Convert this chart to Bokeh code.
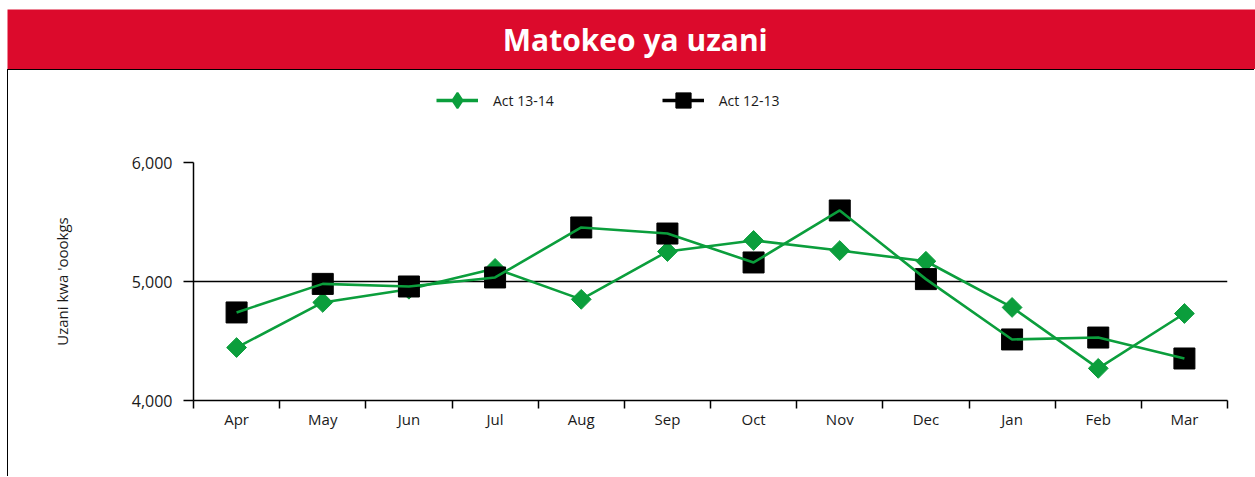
from bokeh.plotting import figure
from bokeh.layouts import column
from bokeh.models import (FixedTicker, NumeralTickFormatter, Legend, LegendItem,
                          Range1d, Label, ColumnDataSource)
from bokeh.embed import file_html
from bokeh.resources import INLINE
import math

# ---- data ----
months = ["Apr", "May", "Jun", "Jul", "Aug", "Sep", "Oct", "Nov", "Dec", "Jan", "Feb", "Mar"]
act_13_14 = [4445, 4824, 4935, 5110, 4850, 5252, 5345, 5260, 5170, 4782, 4270, 4731]
act_12_13 = [4740, 4980, 4958, 5034, 5454, 5403, 5160, 5597, 5020, 4513, 4529, 4353]
y_ticks = [4000, 5000, 6000]
series_names = ["Act 13-14", "Act 12-13"]
title_text = "Matokeo ya uzani"
y_label = "Uzani kwa 'oookgs"

RED = "#dc0a2c"
GREEN = "#0b9e3c"
FONT = "Open Sans"
TXT = "#1a1a1a"
W = 1248

xpos = [i + 0.5 for i in range(len(months))]
src = ColumnDataSource(dict(x=xpos, a=act_13_14, b=act_12_13))


def bare(fig):
    fig.axis.visible = False
    fig.grid.visible = False
    fig.frame_align = False
    return fig


# ---- title bar ----
tf = bare(figure(width=W, height=60, x_range=Range1d(0, 1), y_range=Range1d(0, 1),
                 toolbar_location=None, output_backend="svg", min_border=0,
                 background_fill_color=RED, border_fill_color=RED, outline_line_color=None))
tf.add_layout(Label(x=0.503, y=0.5, text=title_text, text_align="center",
                    text_baseline="middle", text_color="white", text_font=FONT,
                    text_font_style="bold", text_font_size="30px"))

# ---- legend strip (series drawn out of view; only the legend is seen) ----
lf = bare(figure(width=W - 1, height=79, x_range=Range1d(0, len(months)),
                 y_range=Range1d(0, 1),
                 toolbar_location=None, output_backend="svg", min_border=0,
                 outline_line_color=None, background_fill_color="white",
                 border_fill_color="white",
                 styles={"border-left": "1px solid black", "border-top": "1px solid black"}))
lg_l13 = lf.line("x", "a", source=src, line_color=GREEN, line_width=3.5)
lg_d13 = lf.scatter("x", "a", source=src, marker="diamond", size=18,
                    fill_color=GREEN, line_color=GREEN, line_width=2)
lg_l12 = lf.line("x", "b", source=src, line_color="black", line_width=3.5)
lg_s12 = lf.scatter("x", "b", source=src, marker="square", size=16,
                    fill_color="black", line_color="black")
legend = Legend(items=[LegendItem(label=series_names[0], renderers=[lg_l13, lg_d13]),
                       LegendItem(label=series_names[1], renderers=[lg_l12, lg_s12])],
                orientation="horizontal", location=(428, 30),
                glyph_width=42, glyph_height=38, label_standoff=15, spacing=108,
                padding=0, margin=0, border_line_color=None, background_fill_alpha=0,
                label_text_font=FONT, label_text_font_size="14px", label_text_color=TXT)
lf.add_layout(legend, "center")

# ---- chart ----
p = figure(width=W - 1, height=328, x_range=Range1d(0, len(months)),
           y_range=Range1d(y_ticks[0], y_ticks[-1]),
           toolbar_location=None, output_backend="svg",
           min_border_left=185, min_border_right=28, min_border_top=14, min_border_bottom=76,
           outline_line_color=None, background_fill_color="white", border_fill_color="white",
           styles={"border-left": "1px solid black"})
p.frame_align = False

l13 = p.line("x", "a", source=src, line_color=GREEN, line_width=2.6)
d13 = p.scatter("x", "a", source=src, marker="square", size=14, angle=math.pi / 4,
                fill_color=GREEN, line_color=GREEN)
s12 = p.scatter("x", "b", source=src, marker="square", size=21,
                fill_color="black", line_color="black")
l12 = p.line("x", "b", source=src, line_color=GREEN, line_width=2.6)

p.xgrid.visible = False
p.ygrid.ticker = FixedTicker(ticks=y_ticks)
p.ygrid.grid_line_color = "black"
p.ygrid.grid_line_width = 1.5

ya = p.yaxis[0]
ya.ticker = FixedTicker(ticks=y_ticks)
ya.formatter = NumeralTickFormatter(format="0,0")
ya.major_tick_out = 10
ya.major_tick_in = 0
ya.major_tick_line_width = 1.5
ya.axis_line_width = 1.5
ya.minor_tick_line_color = None
ya.major_label_text_font = FONT
ya.major_label_text_font_size = "16px"
ya.major_label_text_color = TXT
ya.major_label_standoff = 11
ya.axis_label = y_label
ya.axis_label_text_font = FONT
ya.axis_label_text_font_style = "normal"
ya.axis_label_text_font_size = "15px"
ya.axis_label_text_color = TXT
ya.axis_label_standoff = 57

xa = p.xaxis[0]
xa.ticker = FixedTicker(ticks=xpos, minor_ticks=list(range(len(months) + 1)))
xa.major_label_overrides = {x: m for x, m in zip(xpos, months)}
xa.major_tick_line_color = None
xa.major_tick_out = 0
xa.major_tick_in = 0
xa.minor_tick_out = 8
xa.minor_tick_in = 0
xa.minor_tick_line_color = "black"
xa.minor_tick_line_width = 1.5
xa.axis_line_width = 1.5
xa.major_label_text_font = FONT
xa.major_label_text_font_size = "15px"
xa.major_label_text_color = TXT
xa.major_label_standoff = 0

layout = column(tf, lf, p, spacing=0, margin=(9, 0, 0, 7))
open("out.html", "w").write(file_html(layout, INLINE))
